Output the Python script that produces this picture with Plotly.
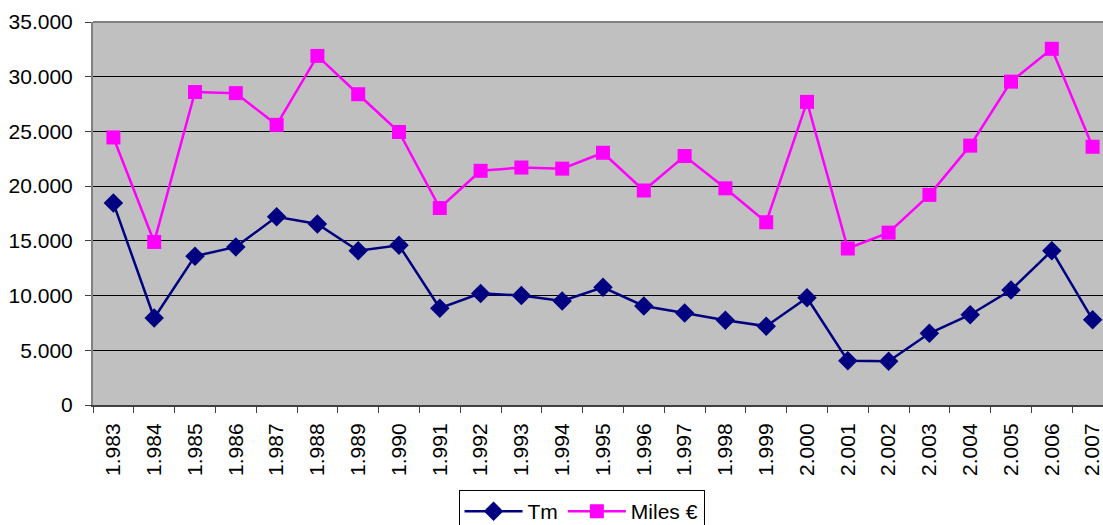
import plotly.graph_objects as go

years = ["1.983", "1.984", "1.985", "1.986", "1.987", "1.988", "1.989", "1.990",
         "1.991", "1.992", "1.993", "1.994", "1.995", "1.996", "1.997", "1.998",
         "1.999", "2.000", "2.001", "2.002", "2.003", "2.004", "2.005", "2.006", "2.007"]
tm = [18450, 7950, 13600, 14450, 17200, 16550, 14100, 14600,
      8850, 10200, 10000, 9500, 10750, 9050, 8400, 7750,
      7200, 9800, 4050, 4000, 6550, 8250, 10500, 14100, 7800]
miles = [24450, 14900, 28600, 28500, 25600, 31900, 28400, 24950,
         18000, 21400, 21700, 21600, 23050, 19600, 22750, 19800,
         16700, 27700, 14300, 15750, 19200, 23700, 29550, 32550, 23600]

FONT = "Liberation Sans, Arial, sans-serif"

fig = go.Figure()
fig.add_trace(go.Scatter(x=years, y=tm, name="Tm", mode="lines+markers",
                         line=dict(color="#000080", width=2.5),
                         marker=dict(symbol="diamond", size=15, color="#000080")))
fig.add_trace(go.Scatter(x=years, y=miles, name="Miles €", mode="lines+markers",
                         line=dict(color="#FF00FF", width=2.5),
                         marker=dict(symbol="square", size=14, color="#FF00FF")))

fig.update_layout(
    width=1103, height=525,
    margin=dict(l=93, r=0, t=22, b=120, autoexpand=False),
    paper_bgcolor="white", plot_bgcolor="#C0C0C0",
    separators=",.",
    font=dict(family=FONT, size=21, color="black"),
    showlegend=True,
    legend=dict(orientation="h", x=0.4837, xanchor="center", y=-0.222, yanchor="top",
                bordercolor="black", borderwidth=1, bgcolor="white",
                font=dict(family=FONT, size=21), itemwidth=58,
                tracegroupgap=0),
)
fig.update_xaxes(type="category", range=[-0.5, 24.255], tickangle=-90, automargin=False,
                 showgrid=False, showline=True, linecolor="#404040", linewidth=2,
                 ticks="outside", ticklen=6, tickcolor="#404040", tickson="boundaries",
                 ticklabelstandoff=8,
                 tickfont=dict(family=FONT, size=21), mirror=False, zeroline=False)
fig.update_yaxes(range=[0, 35000], dtick=5000, tickformat=",d", automargin=False,
                 showgrid=True, gridcolor="black", gridwidth=1,
                 showline=True, linecolor="#808080", linewidth=2,
                 ticks="outside", ticklen=6, tickcolor="#404040",
                 ticklabelstandoff=8,
                 tickfont=dict(family=FONT, size=21), zeroline=False)
# top border of plot area
fig.add_shape(type="line", xref="paper", yref="paper", x0=0, x1=1, y0=1, y1=1,
              line=dict(color="#808080", width=2))

fig.write_html("out.html",
               config={"displayModeBar": False},
               post_script="document.body.style.margin='0';document.body.style.overflow='hidden';")
